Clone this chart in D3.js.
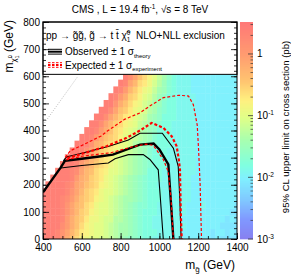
<!DOCTYPE html>
<html>
<head>
<meta charset="utf-8">
<script src="https://cdn.jsdelivr.net/npm/d3@7"></script>
<style>
body { margin: 0; background: #fff; }
svg text { font-family: "Liberation Sans", Arial, sans-serif; fill: #000; }
</style>
</head>
<body>
<svg id="chart" width="291" height="279"></svg>
<script>
// grid of the limit map (25 GeV cells)
var gluinoMasses = d3.range(400, 1401, 25);
var lspMasses = d3.range(0, 601, 25);

// one char per cell, log10(limit/pb) = index/10 - 3, '.' = no point
var levelCodes = "0123456789abcdefghijklmnopqrstuvwxyz";
var limitRows = [
	"yyyxv sqoml kkjji hgfee dccbb bbbba aaaaa 9a999 9",
	"yyyxv trpnm lkkji hggfe dcccb bbbba aaaaa 9aa9a 9",
	"yyyyw usqom lkkji hggfe dccbb bbbbb aaaaa aa999 9",
	"yyyyx usqpn llkjj hhgfe dccbb bbbba aaaaa aaa9a 9",
	"yyyyx vtrpo mlkkj ihgfe dcccb bbbbb aaaaa aaaa9 9",
	"yyyyx vtrqo nlkkj ihgfe ddccb bbbbb aaaba aaaaa 9",
	"zyyyx wusqp omlkj ihggf edccc bbbbb baaaa aaaaa a",
	"zyyyy xvtrp onlkk jihgf edccc bbbbb baaaa aaaaa a",
	".yyyy xwtsq pomlk jihgf edccb bbbbb baaaa aaaaa a",
	"..yyy yxusr ponlk jihgf edccc bbbbb baaaa aaaaa a",
	"...yy yxwtr qonmk kjihg feccc bbbbb bbaaa aaaaa a",
	"....y yyxus rponl kjihg fedcc cbbbb bbaaa aaaaa a",
	"..... yyxvt rqonm kjihg fedcc cbbbb bbaaa aaaaa a",
	"..... .yyxv trpon lkjih gfdcc cbbbb bbaaa aaaaa a",
	"..... ..yyx vsrpo mlkjh gfedc ccbbb bbaaa aaaaa a",
	"..... ...yy xusqp omkji hgfdc ccbbb bbaaa aaaaa a",
	"..... ....y yxusq onlkj hgfec ccbbb bbaaa aaaaa a",
	"..... ..... yywtr pomlk ihged ccbbb bbaaa aaaaa a",
	"..... ..... .yywt rpnmk jigfe cccbb bbaaa aaaaa a",
	"..... ..... ..yyw tqpnl kjhge dccbb bbaaa aaaaa a",
	"..... ..... ...yy vsqom ljigf dccbb bbaaa aaaaa a",
	"..... ..... ....y xuspo mkjhf eccbb bbaaa aaaaa a",
	"..... ..... ..... yxurp nlkig fdcbb baaaa aaaaa a",
	"..... ..... ..... .yxtr onljh fdcbb baaaa aaaaa a",
	"..... ..... ..... ..ywt qomki gecbb baaaa aaaaa a"
];

// exclusion contours, [m_gluino, m_lsp] in GeV
var observed = [[400,172],[490,262],[513,288],[600,296],[700,305],[760,311],[850,335],[900,348],[970,352],[1000,330],[1046,275],[1058,150],[1072,0]];
var observedUp = [[505,288],[520,302],[600,316],[740,342],[840,365],[900,390],[1015,390],[1072,335],[1097,268],[1105,150],[1112,0]];
var observedDown = [[491,262],[600,271],[737,280],[771,296],[840,311],[917,311],[951,293],[994,255],[1005,150],[1020,0]];
var expected = [[525,298],[642,323],[728,342],[831,373],[900,400],[960,428],[1020,410],[1063,379],[1089,342],[1100,293],[1106,256],[1110,100],[1115,0]];
var expectedUp = [[515,300],[540,325],[600,345],[700,380],[730,397],[820,441],[900,465],[950,490],[1020,521],[1100,530],[1150,527],[1175,495],[1195,420],[1202,330],[1210,200],[1217,0]];
var expectedDown = [[520,292],[600,305],[750,318],[850,338],[930,350],[969,345],[1020,293],[1045,250],[1060,150],[1072,0]];
var diagonal = [[400,420],[580,600]];

var xTicks = [400, 600, 800, 1000, 1200, 1400];
var yTicks = [0, 100, 200, 300, 400, 500, 600, 700, 800];
var zTicks = [1e-3, 1e-2, 1e-1, 1];
var zTickLabels = [["10", "-3"], ["10", "-2"], ["10", "-1"], ["1", ""]];

// palette position (0 bottom .. 1 top of the colour bar)
var paletteStops = [0, 0.09, 0.18, 0.28, 0.34, 0.456, 0.56, 0.64, 0.73, 0.85, 1];
var paletteColors = ["#8880f0", "#8098ff", "#80c8ff", "#80f0ff", "#80ffe0", "#a8ffb0", "#e0ff88", "#fff080", "#ffc470", "#ff9c70", "#ff7878"];

var zMin = 1e-3, zMax = 3.3;
var logMin = Math.log10(zMin), logMax = Math.log10(zMax);

var svg = d3.select("#chart");
var x = d3.scaleLinear().domain([400, 1400]).range([43, 237]);
var y = d3.scaleLinear().domain([0, 800]).range([239, 22]);
var z = d3.scaleLog().domain([zMin, zMax]).range([239, 22]);
var color = d3.scaleLinear()
	.domain(paletteStops.map(function(t) { return logMin + t * (logMax - logMin); }))
	.range(paletteColors)
	.clamp(true);

var cells = [];
limitRows.forEach(function(row, i) {
	var codes = row.replace(/ /g, "");
	if (codes.length != gluinoMasses.length) throw new Error("row " + i + " has " + codes.length);
	for (var j = 0; j < codes.length; j++) {
		if (codes[j] == ".") continue;
		cells.push({ mg: gluinoMasses[j], mlsp: lspMasses[i], logLimit: levelCodes.indexOf(codes[j]) / 10 - 3 });
	}
});

svg.append("clipPath").attr("id", "plotClip")
	.append("rect").attr("x", x(400)).attr("y", y(800)).attr("width", x(1400) - x(400)).attr("height", y(0) - y(800));

var plot = svg.append("g").attr("clip-path", "url(#plotClip)");

plot.append("g").selectAll("rect")
	.data(cells)
	.join("rect")
	.attr("x", function(d) { return x(d.mg - 12.5); })
	.attr("y", function(d) { return y(d.mlsp + 12.5); })
	.attr("width", x(425) - x(400) + 0.4)
	.attr("height", y(0) - y(25) + 0.4)
	.attr("fill", function(d) { return color(d.logLimit); });

var line = d3.line()
	.x(function(d) { return x(d[0]); })
	.y(function(d) { return y(d[1]); });

plot.append("path").attr("d", line(diagonal))
	.attr("fill", "none").attr("stroke", "#aaa").attr("stroke-width", 0.8).attr("stroke-dasharray", "1,1.5");

var contours = [
	{ pts: observedUp, stroke: "#000", width: 1.1, dash: null },
	{ pts: observedDown, stroke: "#000", width: 1.1, dash: null },
	{ pts: observed, stroke: "#000", width: 2.4, dash: null },
	{ pts: expectedUp, stroke: "#f00", width: 1.2, dash: "3,2" },
	{ pts: expectedDown, stroke: "#f00", width: 1.2, dash: "3,2" },
	{ pts: expected, stroke: "#f00", width: 2.2, dash: "3,2" }
];
plot.append("g").selectAll("path")
	.data(contours)
	.join("path")
	.attr("d", function(c) { return line(c.pts); })
	.attr("fill", "none")
	.attr("stroke", function(c) { return c.stroke; })
	.attr("stroke-width", function(c) { return c.width; })
	.attr("stroke-dasharray", function(c) { return c.dash; });

// text with sub/superscripts: parts are [text, size, shift, dx]
function richText(sel, parts) {
	var cur = 0;
	parts.forEach(function(p) {
		var shift = p[2] || 0;
		var t = sel.append("tspan").text(p[0]).style("font-size", p[1] + "px").attr("dy", shift - cur);
		if (p[3]) t.attr("dx", p[3]);
		cur = shift;
	});
	return sel;
}

// legend box
var legend = svg.append("g");
legend.append("rect")
	.attr("x", x(400)).attr("y", y(800)).attr("width", x(1400) - x(400)).attr("height", y(607) - y(800))
	.attr("fill", "#fff").attr("stroke", "#000").attr("stroke-width", 1);

richText(legend.append("text").attr("x", 46).attr("y", 38.5), [
	["pp \u2192 g\u0303g\u0303, g\u0303 \u2192 t t\u0304 \u03c7\u0303", 10, 0],
	["0", 6.5, -4], ["1", 6.5, 3, -3.6],
	["\u00a0 NLO+NLL exclusion", 10, 0]
]);

var symX = [48, 62];
[[49.3, 1], [51.7, 2], [54.1, 1]].forEach(function(s) {
	legend.append("line").attr("x1", symX[0]).attr("x2", symX[1]).attr("y1", s[0]).attr("y2", s[0])
		.attr("stroke", "#000").attr("stroke-width", s[1]);
});
[[62.7, 1], [65, 2], [67.3, 1]].forEach(function(s) {
	legend.append("line").attr("x1", symX[0]).attr("x2", symX[1]).attr("y1", s[0]).attr("y2", s[0])
		.attr("stroke", "#f00").attr("stroke-width", s[1]).attr("stroke-dasharray", "2.5,1.5");
});
richText(legend.append("text").attr("x", 65).attr("y", 55), [
	["Observed \u00b1 1 \u03c3", 10, 0], ["theory", 6, 2.5]
]);
richText(legend.append("text").attr("x", 65).attr("y", 68.5), [
	["Expected \u00b1 1 \u03c3", 10, 0], ["experiment", 6, 2.5]
]);

// frame
svg.append("rect")
	.attr("x", x(400)).attr("y", y(800)).attr("width", x(1400) - x(400)).attr("height", y(0) - y(800))
	.attr("fill", "none").attr("stroke", "#000").attr("stroke-width", 1);

// axes with inward ticks
var xMinor = d3.range(400, 1401, 50);
var yMinor = d3.range(0, 801, 20);

var xAxis = svg.append("g").attr("transform", "translate(0," + y(0) + ")");
xAxis.call(d3.axisBottom(x).tickValues(xMinor).tickSize(-3).tickFormat(""));
xAxis.append("g").call(d3.axisBottom(x).tickValues(xTicks).tickSize(-6).tickPadding(5).tickFormat(d3.format("d")));

var yAxis = svg.append("g").attr("transform", "translate(" + x(400) + ",0)");
yAxis.call(d3.axisLeft(y).tickValues(yMinor).tickSize(-3).tickFormat(""));
yAxis.append("g").call(d3.axisLeft(y).tickValues(yTicks).tickSize(-6).tickPadding(3).tickFormat(d3.format("d")));

var yAxisRight = svg.append("g").attr("transform", "translate(" + x(1400) + ",0)");
yAxisRight.call(d3.axisRight(y).tickValues(yMinor).tickSize(-3).tickFormat(""));
yAxisRight.append("g").call(d3.axisRight(y).tickValues(yTicks).tickSize(-6).tickFormat(""));

svg.selectAll(".domain").remove();
svg.selectAll(".tick line").attr("stroke", "#000").attr("stroke-width", 0.8);
svg.selectAll(".tick text").style("font-size", "10px").style("font-family", "Liberation Sans, Arial, sans-serif").attr("fill", "#000");

// colour bar
var barX = 240, barW = 13;
var bar = svg.append("g");
bar.selectAll("rect")
	.data(d3.range(z(zMin), z(zMax), -1))
	.join("rect")
	.attr("x", barX)
	.attr("y", function(py) { return py - 1; })
	.attr("width", barW)
	.attr("height", 1.3)
	.attr("fill", function(py) { return color(Math.log10(z.invert(py - 0.5))); });

var zMinor = [];
zTicks.forEach(function(t) {
	d3.range(2, 10).forEach(function(k) { if (t * k < zMax) zMinor.push(t * k); });
});
bar.selectAll("line.minor")
	.data(zMinor)
	.join("line")
	.attr("x1", barX + barW - 2.5).attr("x2", barX + barW)
	.attr("y1", function(d) { return z(d); }).attr("y2", function(d) { return z(d); })
	.attr("stroke", "#333").attr("stroke-width", 0.7);
bar.selectAll("line.major")
	.data(zTicks)
	.join("line")
	.attr("x1", barX + barW - 5).attr("x2", barX + barW)
	.attr("y1", function(d) { return z(d); }).attr("y2", function(d) { return z(d); })
	.attr("stroke", "#333").attr("stroke-width", 0.8);
zTicks.forEach(function(t, i) {
	richText(bar.append("text").attr("x", barX + barW + 4).attr("y", z(t) + 3.5), [
		[zTickLabels[i][0], 10, 0], [zTickLabels[i][1], 6.5, -4]
	]);
});

// titles
richText(svg.append("text").attr("x", 140).attr("y", 13).attr("text-anchor", "middle"), [
	["CMS , L = 19.4 fb", 10, 0], ["-1", 6.5, -4], [", \u221as = 8 TeV", 10, 0]
]);

richText(svg.append("text").attr("x", 235).attr("y", 269).attr("text-anchor", "end"), [
	["m", 12, 0], ["g\u0303", 8, 3], [" (GeV)", 12, 0]
]);

richText(svg.append("text").attr("transform", "translate(12.5,20) rotate(-90)").attr("text-anchor", "end"), [
	["m", 12, 0], ["\u03c7\u0303", 8, 3], ["0", 5.5, -1], ["1", 5.5, 6, -3.2], [" (GeV)", 12, 0]
]);

svg.append("text")
	.attr("transform", "translate(289,127) rotate(-90)")
	.attr("text-anchor", "middle")
	.style("font-size", "9.6px")
	.text("95% CL upper limit on cross section (pb)");
</script>
</body>
</html>
